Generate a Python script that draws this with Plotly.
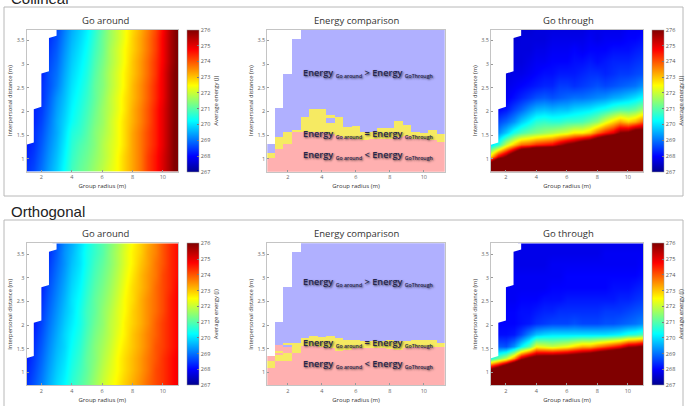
import plotly.graph_objects as go

N = None
x_centres = [1 + 0.5 * i for i in range(21)]
y_centres = [0.8, 1.05, 1.3, 1.55, 1.8, 2.05, 2.3, 2.55, 2.8, 3.05, 3.3, 3.55, 3.8]
x_ticks = [2, 4, 6, 8, 10]
y_ticks = [1, 1.5, 2, 2.5, 3, 3.5]
y_tick_labels = ["1", "1.5", "2", "2.5", "3", "3.5"]
cbar_ticks = [267, 268, 269, 270, 271, 272, 273, 274, 275, 276]
blank_x = [0.75, 1.0, 1.5, 1.5, 2.0, 2.0, 2.5, 2.5, 3.0, 3.0, 0.75]
blank_y = [1.30, 1.30, 1.35, 2.05, 2.10, 2.80, 2.85, 3.55, 3.60, 3.80, 3.80]

around_collinear = [
    [268.4,268.6,269.0,269.4,269.8,270.3,270.8,271.1,271.3,271.6,271.9,272.2,272.5,272.9,273.3,273.7,274.2,274.6,275.1,275.7,276.4],
    [268.3,268.5,268.9,269.3,269.7,270.2,270.7,271.0,271.2,271.5,271.8,272.1,272.5,272.9,273.3,273.7,274.2,274.6,275.1,275.7,276.4],
    [268.2,268.4,268.8,269.2,269.6,270.1,270.6,270.9,271.1,271.4,271.8,272.1,272.4,272.8,273.3,273.7,274.1,274.5,275.0,275.7,276.4],
    [N,268.4,268.7,269.1,269.5,270.0,270.5,270.7,271.0,271.4,271.7,272.0,272.4,272.8,273.3,273.7,274.1,274.5,275.0,275.7,276.4],
    [N,268.3,268.6,269.0,269.5,269.9,270.3,270.6,270.9,271.3,271.6,272.0,272.4,272.8,273.2,273.6,274.0,274.5,275.0,275.7,276.3],
    [N,268.3,268.5,268.9,269.4,269.8,270.2,270.5,270.8,271.2,271.6,271.9,272.3,272.7,273.2,273.6,274.0,274.5,275.0,275.7,276.3],
    [N,N,268.4,268.8,269.3,269.7,270.1,270.4,270.7,271.1,271.5,271.9,272.3,272.7,273.1,273.5,273.9,274.4,274.9,275.7,276.3],
    [N,N,268.4,268.7,269.1,269.6,270.0,270.3,270.6,271.1,271.4,271.8,272.2,272.6,273.1,273.5,273.9,274.4,274.9,275.7,276.3],
    [N,N,268.3,268.7,269.0,269.5,269.9,270.2,270.5,271.0,271.4,271.8,272.2,272.6,273.0,273.4,273.8,274.3,274.9,275.7,276.3],
    [N,N,N,268.6,268.9,269.4,269.8,270.1,270.4,270.9,271.3,271.7,272.1,272.5,273.0,273.4,273.8,274.3,274.8,275.6,276.2],
    [N,N,N,268.5,268.8,269.3,269.7,270.0,270.3,270.8,271.2,271.7,272.1,272.5,272.9,273.3,273.7,274.2,274.8,275.6,276.2],
    [N,N,N,268.4,268.7,269.2,269.6,269.9,270.2,270.7,271.2,271.6,272.0,272.4,272.9,273.3,273.7,274.2,274.8,275.6,276.2],
    [N,N,N,N,268.6,269.1,269.5,269.8,270.1,270.6,271.1,271.6,272.0,272.4,272.8,273.2,273.6,274.1,274.7,275.6,276.2],
]

around_orthogonal = [
    [268.4,268.7,269.1,269.5,269.9,270.2,270.6,270.9,271.2,271.6,272.0,272.3,272.6,272.9,273.2,273.5,273.8,274.1,274.3,274.6,274.9],
    [268.3,268.6,269.0,269.4,269.8,270.1,270.5,270.8,271.1,271.5,271.9,272.2,272.5,272.8,273.1,273.4,273.7,274.1,274.3,274.6,274.9],
    [268.2,268.5,268.9,269.3,269.7,270.0,270.4,270.7,271.1,271.4,271.8,272.1,272.5,272.8,273.1,273.4,273.7,274.0,274.3,274.6,274.9],
    [N,268.4,268.8,269.2,269.6,269.9,270.3,270.6,271.0,271.4,271.7,272.0,272.4,272.7,273.0,273.3,273.6,274.0,274.2,274.5,274.8],
    [N,268.3,268.7,269.1,269.5,269.9,270.2,270.5,270.9,271.3,271.6,271.9,272.3,272.6,273.0,273.3,273.6,273.9,274.2,274.5,274.8],
    [N,268.2,268.6,269.0,269.4,269.8,270.1,270.4,270.8,271.2,271.5,271.9,272.2,272.6,272.9,273.2,273.5,273.9,274.2,274.5,274.8],
    [N,N,268.5,268.9,269.3,269.7,270.0,270.4,270.8,271.1,271.5,271.8,272.2,272.5,272.9,273.2,273.5,273.8,274.1,274.5,274.8],
    [N,N,268.4,268.8,269.2,269.6,270.0,270.3,270.7,271.1,271.4,271.7,272.1,272.5,272.8,273.2,273.5,273.8,274.1,274.5,274.8],
    [N,N,268.3,268.7,269.1,269.5,269.9,270.2,270.6,271.0,271.3,271.6,272.0,272.4,272.8,273.1,273.4,273.8,274.1,274.4,274.8],
    [N,N,N,268.6,269.0,269.4,269.8,270.1,270.5,270.9,271.2,271.5,271.9,272.3,272.7,273.1,273.4,273.7,274.1,274.4,274.7],
    [N,N,N,268.5,268.9,269.3,269.7,270.0,270.4,270.8,271.1,271.4,271.8,272.2,272.6,273.0,273.3,273.7,274.0,274.4,274.7],
    [N,N,N,268.4,268.8,269.3,269.6,270.0,270.4,270.7,271.0,271.4,271.8,272.2,272.6,272.9,273.3,273.6,274.0,274.4,274.7],
    [N,N,N,N,268.7,269.2,269.5,269.9,270.3,270.7,271.0,271.3,271.7,272.1,272.5,272.9,273.2,273.6,274.0,274.4,274.7],
]

through_collinear = [
    [280,283,285,285,285,285,285,285,285,285,285,285,285,285,285,285,285,285,285,285,285],
    [273,275,276.2,278,280,281,282,282,282,283,283,284,284,285,285,285,285,285,285,285,285],
    [270,270.6,272,273,273.8,274,274.4,274.6,274.8,275.5,276.2,276.6,277.5,278,279,280,281,282,283,283,283],
    [N,269.2,269.8,270.5,270.9,271.2,271.4,271.6,271.8,272,272.2,272.6,272.6,273,273.8,274.5,275,276,276.2,277,277],
    [N,268.6,268.9,269.3,269.8,270.2,270.6,270.7,270.6,270.6,270.8,270.8,270.9,271.2,271.5,272.2,272.8,273.3,272.9,273.2,273.9],
    [N,268,268.2,268.6,268.9,269.3,269.6,269.7,269.6,269.7,269.7,269.9,270,270.1,270.3,270.5,270.8,271,271,271.2,271.7],
    [N,N,267.9,268.1,268.3,268.5,268.7,268.8,268.7,268.8,268.9,269,269,269.1,269.2,269.3,269.5,269.6,269.8,270,270.3],
    [N,N,267.8,267.9,268,268.1,268.2,268.3,268.3,268.5,268.5,268.4,268.5,268.6,268.7,268.6,268.7,268.8,268.9,269,269.3],
    [N,N,267.7,267.8,267.8,267.9,268,268.1,268.1,268.2,268.2,268.2,268.3,268.4,268.4,268.3,268.4,268.5,268.5,268.6,268.7],
    [N,N,N,267.7,267.7,267.8,267.9,267.9,268,268,268,268.1,268.1,268.2,268.1,268.2,268.3,268.3,268.3,268.4,268.5],
    [N,N,N,267.7,267.7,267.7,267.8,267.8,267.9,267.9,267.9,268,267.9,268,268,268,268.1,268.1,268.1,268.2,268.3],
    [N,N,N,267.6,267.7,267.7,267.7,267.7,267.8,267.8,267.8,267.8,267.8,267.9,267.8,267.9,267.9,267.9,268,268,268.1],
    [N,N,N,N,267.6,267.6,267.7,267.7,267.7,267.7,267.7,267.7,267.7,267.8,267.8,267.8,267.8,267.8,267.9,267.9,267.9],
]

through_orthogonal = [
    [285,285,285,285,285,285,285,285,285,285,285,285,285,285,285,285,285,285,285,285,285],
    [276.8,278,280,282,283,285,285,285,285,285,285,285,285,285,285,285,285,285,285,285,285],
    [270.5,271.2,272,273.5,275.5,276.5,277,277.2,277.3,277.4,277.6,277.8,278,278.5,279,279.5,280,280.5,281,281,281],
    [N,268.8,268.7,269.3,270.2,271,272.4,272.2,272,272.2,272.4,272.8,273.2,273.2,273.6,274,274.4,274.8,275.6,275.8,276.2],
    [N,268.1,268.1,268.2,268.6,269.2,269.7,269.9,270,270,270,270,270,270,270,270,270.1,270.2,270.5,270.6,270.9],
    [N,268,268,268,268.1,268.2,268.4,268.5,268.6,268.6,268.6,268.7,268.6,268.6,268.6,268.7,268.7,268.8,268.9,269,269.2],
    [N,N,268,268,268.1,268.1,268.2,268.3,268.3,268.4,268.4,268.4,268.4,268.4,268.4,268.5,268.5,268.5,268.6,268.7,268.8],
    [N,N,267.9,267.9,268,268,268,268.1,268.1,268.1,268.2,268.2,268.2,268.2,268.2,268.2,268.2,268.3,268.3,268.4,268.5],
    [N,N,267.9,267.9,267.9,267.9,267.9,267.9,268,268,268,268,268,268,268,268,268.1,268.1,268.1,268.2,268.3],
    [N,N,N,267.9,267.9,267.9,267.9,267.9,267.9,267.9,268,268,268,268,268,268,268,268,268,268,268.1],
    [N,N,N,267.8,267.8,267.8,267.8,267.8,267.9,267.9,267.9,267.9,267.9,267.9,267.9,267.9,267.9,267.9,267.9,267.9,268],
    [N,N,N,267.8,267.8,267.8,267.8,267.8,267.8,267.8,267.8,267.8,267.8,267.8,267.8,267.9,267.9,267.9,267.9,267.9,267.9],
    [N,N,N,N,267.8,267.8,267.8,267.8,267.8,267.8,267.8,267.8,267.8,267.8,267.8,267.8,267.8,267.8,267.8,267.8,267.8],
]

# comparison panels: class boundaries (m) per 0.5 m column
pink_top_c = [1.02,1.22,1.32,1.57,1.58,1.58,1.57,1.53,1.48,1.44,1.43,1.41,1.42,1.42,1.43,1.46,1.48,1.43,1.43,1.40,1.37]
yellow_top_c = [1.14,1.46,1.57,1.62,1.90,2.05,2.05,1.93,1.90,1.67,1.71,1.58,1.58,1.65,1.65,1.80,1.72,1.57,1.55,1.62,1.53]
blue_top_c = [1.33,2.07,2.80,3.54,9,9,9,9,9,9,9,9,9,9,9,9,9,9,9,9,9]
islands_c = [(4, 1.90, 1.93, "B"), (7, 1.77, 1.86, "B")]

pink_top_o = [1.09,1.25,1.25,1.43,1.56,1.56,1.55,1.53,1.46,1.48,1.53,1.53,1.53,1.53,1.50,1.49,1.53,1.54,1.54,1.54,1.54]
yellow_top_o = [1.25,1.38,1.43,1.63,1.74,1.78,1.76,1.78,1.74,1.69,1.69,1.67,1.67,1.67,1.69,1.67,1.67,1.69,1.69,1.69,1.63]
blue_top_o = [1.35,2.08,2.82,3.55,9,9,9,9,9,9,9,9,9,9,9,9,9,9,9,9,9]
islands_o = [(0, 1.25, 1.35, "P"), (1, 1.38, 1.43, "P"), (1, 1.43, 1.47, "Y"), (1, 1.47, 1.58, "P"),
             (1, 1.58, 2.08, "B"), (2, 1.43, 1.54, "P"), (2, 1.54, 1.58, "B"), (2, 1.58, 1.63, "Y")]

comparison_class = {"P": 0, "Y": 1, "B": 2}
y_fine = [0.72 + 0.01 * i for i in range(310)]


def comparison_grid(pink, yellow, blue, islands):
    rows = []
    for y in y_fine:
        row = []
        for i in range(21):
            if y >= blue[i]:
                row.append(None)
                continue
            c = 0 if y < pink[i] else 1 if y < yellow[i] else 2
            for col, y0, y1, kind in islands:
                if col == i and y0 <= y < y1:
                    c = comparison_class[kind]
            row.append(c)
        rows.append(row)
    return rows


JET = [[0, "rgb(0,0,143)"], [0.11, "rgb(0,0,255)"], [0.36, "rgb(0,255,255)"],
       [0.61, "rgb(255,255,0)"], [0.86, "rgb(255,0,0)"], [1, "rgb(128,0,0)"]]
CLASS_SCALE = [[0, "#ffb0b0"], [0.333, "#ffb0b0"], [0.333, "#f6ea62"], [0.667, "#f6ea62"],
               [0.667, "#b0b0ff"], [1, "#b0b0ff"]]
FAMILY = "Open Sans"
W, H = 690, 406

fig = go.Figure()


def px_x(v):
    return v / W


def px_y(v):
    return 1 - v / H


def add_axes(n, left, right, top, bottom, xrange_):
    suffix = "" if n == 1 else str(n)
    common = dict(showgrid=False, zeroline=False, showline=True, linecolor="#c4c4c4", linewidth=1,
                  mirror=True, ticks="inside", ticklen=2, tickcolor="#999", tickwidth=0.5,
                  tickfont=dict(family=FAMILY, size=5.5, color="#666"))
    fig.layout["xaxis" + suffix] = dict(common, domain=[px_x(left), px_x(right)], range=xrange_,
                                        tickvals=x_ticks, ticktext=[str(t) for t in x_ticks],
                                        anchor="y" + suffix,
                                        title=dict(text="Group radius (m)", standoff=3,
                                                   font=dict(family=FAMILY, size=6, color="#333")))
    fig.layout["yaxis" + suffix] = dict(common, domain=[px_y(bottom), px_y(top)], range=[0.73, 3.73],
                                        tickvals=y_ticks, ticktext=y_tick_labels,
                                        anchor="x" + suffix,
                                        title=dict(text="Interpersonal distance (m)", standoff=3,
                                                   font=dict(family=FAMILY, size=5.8, color="#333")))


def colourbar(x_left, top, bottom):
    return dict(x=px_x(x_left), xanchor="left", xpad=0, ypad=0, y=px_y(bottom), yanchor="bottom",
                lenmode="pixels", len=bottom - top, thicknessmode="pixels", thickness=11.5,
                tickvals=cbar_ticks, ticktext=[str(t) for t in cbar_ticks], ticks="inside",
                ticklen=2, tickcolor="#777", tickwidth=0.5, outlinecolor="#999", outlinewidth=0.5,
                tickfont=dict(family=FAMILY, size=5.5, color="#555"),
                title=dict(text="Average energy (J)", side="right",
                           font=dict(family=FAMILY, size=6, color="#333")))


def add_smooth(n, z, cbar_left, top, bottom):
    suffix = "" if n == 1 else str(n)
    fig.add_trace(go.Heatmap(x=x_centres, y=y_centres, z=z, zmin=267, zmax=276, colorscale=JET,
                             zsmooth="best", hoverongaps=False, colorbar=colourbar(cbar_left, top, bottom),
                             xaxis="x" + suffix, yaxis="y" + suffix))
    fig.add_trace(go.Scatter(x=blank_x, y=blank_y, mode="lines", fill="toself", fillcolor="white",
                             line=dict(width=0, color="white"), hoverinfo="skip",
                             xaxis="x" + suffix, yaxis="y" + suffix))


panels_rows = [(29.5, 171.8, around_collinear, through_collinear, pink_top_c, yellow_top_c, blue_top_c, islands_c),
               (243.3, 385.3, around_orthogonal, through_orthogonal, pink_top_o, yellow_top_o, blue_top_o, islands_o)]
n = 1
for top, bottom, around, through, pink, yellow, blue, islands in panels_rows:
    add_axes(n, 26.5, 178, top, bottom, [1.02, 11])
    add_smooth(n, around, 186.7, top, bottom)
    add_axes(n + 1, 267.3, 444.7, top, bottom, [0.8, 11.23])
    fig.add_trace(go.Heatmap(x=x_centres, y=y_fine, z=comparison_grid(pink, yellow, blue, islands),
                             zmin=0, zmax=2, colorscale=CLASS_SCALE, showscale=False,
                             xaxis="x" + str(n + 1), yaxis="y" + str(n + 1)))
    add_axes(n + 2, 491, 643, top, bottom, [1.02, 11])
    add_smooth(n + 2, through, 651.7, top, bottom)
    n += 3

annotations = []


def label(text, x, y, size=9.5, color="#333", **kw):
    annotations.append(dict(text=text, x=px_x(x), y=px_y(y), xref="paper", yref="paper", showarrow=False,
                            xanchor=kw.pop("xanchor", "center"), yanchor="middle",
                            font=dict(family=kw.pop("family", FAMILY), size=size, color=color, **kw)))


SUB = '<sub><span style="font-size:5.2px">%s</span></sub>'
for row_top in (20, 233.5):
    label("Go around", 105, row_top, size=9.5)
    label("Energy comparison", 356.5, row_top, size=9.5)
    label("Go through", 568, row_top, size=9.5)

for y_pos, sign in zip([73.5, 134, 155.5, 282, 342.5, 364], [">", "=", "<", ">", "=", "<"]):
    label("Energy " + SUB % "Go around" + " " + sign + " Energy " + SUB % "GoThrough",
          301, y_pos, size=9.2, color="#26264a", xanchor="left", weight=600,
          shadow="1px 1px 2px rgba(0,0,0,0.65)")

label("Collinear", 8.5, -1, size=15, color="#222", xanchor="left", family="Liberation Sans")
label("Orthogonal", 8.5, 211, size=15, color="#222", xanchor="left", family="Liberation Sans")

frames = [dict(type="rect", xref="paper", yref="paper", x0=px_x(4), x1=px_x(683), y0=px_y(196), y1=px_y(7),
               line=dict(color="#b8b8b8", width=1), fillcolor="rgba(0,0,0,0)", layer="below"),
          dict(type="rect", xref="paper", yref="paper", x0=px_x(4), x1=px_x(683), y0=px_y(409), y1=px_y(220),
               line=dict(color="#b8b8b8", width=1), fillcolor="rgba(0,0,0,0)", layer="below")]

fig.update_layout(width=W, height=H, margin=dict(l=0, r=0, t=0, b=0), paper_bgcolor="white", plot_bgcolor="white",
                  annotations=annotations, shapes=frames, showlegend=False)
fig.write_html("out.html", post_script="document.body.style.margin='0';", config={"displayModeBar": False})
